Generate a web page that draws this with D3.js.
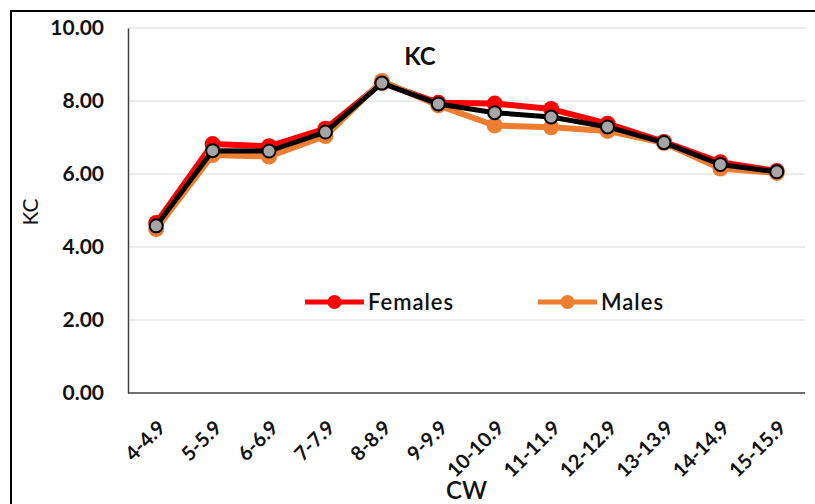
<!DOCTYPE html>
<html>
<head>
<meta charset="utf-8">
<script src="https://cdn.jsdelivr.net/npm/d3@7"></script>
<style>
  html, body { margin: 0; padding: 0; background: #fff; }
  svg { display: block; }
  text { font-family: Lato, "Open Sans", "Liberation Sans", sans-serif; fill: #111; }
</style>
</head>
<body>
<svg id="chart" width="815" height="504"></svg>
<script>
// Carapace-width classes
const categories = ["4-4.9", "5-5.9", "6-6.9", "7-7.9", "8-8.9", "9-9.9",
  "10-10.9", "11-11.9", "12-12.9", "13-13.9", "14-14.9", "15-15.9"];

// KC values per class
const females  = [4.66, 6.82, 6.76, 7.24, 8.50, 7.95, 7.93, 7.78, 7.38, 6.88, 6.32, 6.08];
const males    = [4.49, 6.52, 6.48, 7.04, 8.55, 7.88, 7.33, 7.28, 7.18, 6.85, 6.15, 6.03];
const combined = [4.58, 6.64, 6.63, 7.15, 8.49, 7.92, 7.68, 7.56, 7.29, 6.86, 6.26, 6.06];

const yTicks = [0, 2, 4, 6, 8, 10];

const svg = d3.select("#chart");
const W = 815, H = 504;
const plot = { left: 128, right: 805, top: 28, bottom: 393 };

// outer chart frame (runs off the right and bottom edges)
svg.append("rect")
  .attr("x", 11).attr("y", 11)
  .attr("width", W).attr("height", H)
  .attr("fill", "none").attr("stroke", "#000").attr("stroke-width", 2);

const x = d3.scalePoint().domain(categories)
  .range([plot.left, plot.right]).padding(0.5);
const y = d3.scaleLinear().domain([0, 10]).range([plot.bottom, plot.top]);

// gridlines
svg.append("g").selectAll("line")
  .data(yTicks.filter(d => d > 0))
  .join("line")
  .attr("x1", plot.left).attr("x2", plot.right)
  .attr("y1", d => y(d)).attr("y2", d => y(d))
  .attr("stroke", "#d9d9d9").attr("stroke-width", 1.2);

// y axis
const yAxis = svg.append("g")
  .attr("transform", `translate(${plot.left},0)`)
  .call(d3.axisLeft(y).tickValues(yTicks).tickFormat(d3.format(".2f")).tickSize(0).tickPadding(24));
yAxis.select(".domain").attr("stroke", "#404040").attr("stroke-width", 1.5);
yAxis.selectAll("text")
  .attr("font-size", 21).attr("font-weight", 700)
  .attr("font-family", "Lato, sans-serif").attr("fill", "#111");

// x axis
const xAxis = svg.append("g")
  .attr("transform", `translate(0,${plot.bottom})`)
  .call(d3.axisBottom(x).tickSize(0).tickPadding(0));
xAxis.select(".domain")
  .attr("d", `M${plot.left},0H${plot.right}`)
  .attr("stroke", "#404040").attr("stroke-width", 1.5);
xAxis.selectAll("text")
  .attr("font-size", 20).attr("font-weight", 700)
  .attr("font-family", "Lato, sans-serif").attr("fill", "#111")
  .attr("text-anchor", "end")
  .attr("dy", "0.35em")
  .attr("transform", "translate(5,31) rotate(-45)");

// axis titles
svg.append("text")
  .attr("transform", `translate(38,212) rotate(-90)`)
  .attr("text-anchor", "middle")
  .attr("font-size", 21)
  .text("KC");
svg.append("text")
  .attr("x", (plot.left + plot.right) / 2).attr("y", 499)
  .attr("text-anchor", "middle")
  .attr("font-size", 24).attr("font-weight", 600)
  .text("CW");

// chart title
svg.append("text")
  .attr("x", 420).attr("y", 65)
  .attr("text-anchor", "middle")
  .attr("font-size", 24).attr("font-weight", 700)
  .text("KC");

const line = d3.line().x((d, i) => x(categories[i])).y(d => y(d));

function drawSeries(values, color, width, r, fill, stroke, sw) {
  const g = svg.append("g");
  g.append("path").datum(values)
    .attr("d", line).attr("fill", "none")
    .attr("stroke", color).attr("stroke-width", width)
    .attr("stroke-linejoin", "round");
  g.selectAll("circle").data(values).join("circle")
    .attr("cx", (d, i) => x(categories[i])).attr("cy", d => y(d))
    .attr("r", r).attr("fill", fill)
    .attr("stroke", stroke).attr("stroke-width", sw);
}

drawSeries(females, "#ff0000", 6, 8, "#ff0000", "#ff0000", 0);
drawSeries(males, "#ed7d31", 6, 8, "#ed7d31", "#ed7d31", 0);
drawSeries(combined, "#000000", 5, 6.5, "#a6a6a6", "#000", 2);

// legend
const legend = [
  { name: "Females", color: "#ff0000", x: 305 },
  { name: "Males", color: "#ed7d31", x: 538 }
];
const lg = svg.append("g").selectAll("g").data(legend).join("g")
  .attr("transform", d => `translate(${d.x},302)`);
lg.append("line").attr("x1", 0).attr("x2", 59).attr("y1", 0).attr("y2", 0)
  .attr("stroke", d => d.color).attr("stroke-width", 5);
lg.append("circle").attr("cx", 29.5).attr("cy", 0).attr("r", 7)
  .attr("fill", d => d.color);
lg.append("text").attr("x", 63).attr("y", 0).attr("dy", "0.36em")
  .attr("font-size", 22).attr("font-weight", 600)
  .attr("letter-spacing", 1)
  .text(d => d.name);
</script>
</body>
</html>
